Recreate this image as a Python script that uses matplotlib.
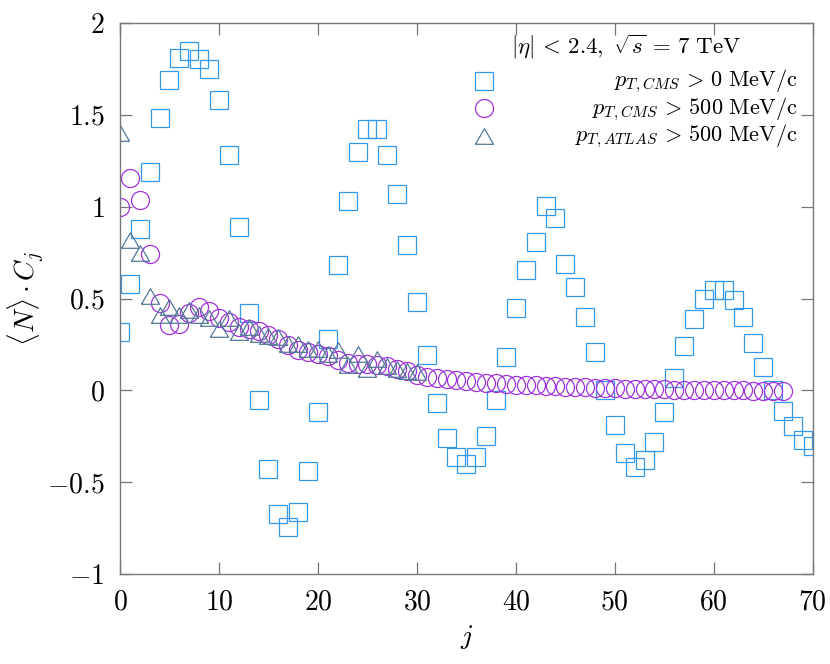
import matplotlib
matplotlib.use("Agg")
import matplotlib.pyplot as plt
from matplotlib.ticker import FuncFormatter, MultipleLocator

plt.rcParams["mathtext.fontset"] = "cm"
plt.rcParams["font.family"] = ["cmr10", "DejaVu Serif"]

# <N> * C_j, CMS, pT > 0 MeV/c (j = 0 .. 70)
cms0_vals = [
    0.32, 0.58, 0.88, 1.19, 1.48, 1.69, 1.81, 1.845, 1.805, 1.75,
    1.58, 1.28, 0.89, 0.42, -0.05, -0.43, -0.67, -0.745, -0.66, -0.44,
    -0.12, 0.28, 0.68, 1.03, 1.295, 1.42, 1.42, 1.28, 1.07, 0.79,
    0.48, 0.19, -0.067, -0.26, -0.36, -0.40, -0.36, -0.25, -0.05, 0.18,
    0.45, 0.655, 0.81, 1.005, 0.94, 0.686, 0.564, 0.40, 0.207, 0.005,
    -0.19, -0.34, -0.415, -0.377, -0.278, -0.118, 0.067, 0.24, 0.387, 0.495,
    0.545, 0.545, 0.49, 0.40, 0.256, 0.127, 0.005, -0.11, -0.196, -0.27,
    -0.30,
]
# CMS, pT > 500 MeV/c (j = 0 .. 67)
cms500_vals = [
    1.00, 1.153, 1.035, 0.742, 0.478, 0.357, 0.36, 0.42, 0.455, 0.43,
    0.395, 0.373, 0.347, 0.336, 0.322, 0.304, 0.279, 0.248, 0.22, 0.209,
    0.196, 0.185, 0.164, 0.149, 0.145, 0.142, 0.140, 0.131, 0.118, 0.105,
    0.082, 0.073, 0.068, 0.064, 0.058, 0.052, 0.046, 0.042, 0.039, 0.035,
    0.032, 0.029, 0.027, 0.024, 0.022, 0.020, 0.018, 0.016, 0.014, 0.013,
    0.011, 0.010, 0.009, 0.008, 0.007, 0.006, 0.005, 0.004, 0.003, 0.003,
    0.002, 0.001, 0.001, 0.000, -0.001, -0.002, -0.003, -0.004,
]
# ATLAS, pT > 500 MeV/c (j = 0 .. 30)
atlas500_vals = [
    1.40, 0.818, 0.746, 0.516, 0.409, 0.453, 0.411, 0.44, 0.409, 0.396,
    0.334, 0.396, 0.32, 0.344, 0.305, 0.298, 0.29, 0.255, 0.25, 0.225,
    0.225, 0.20, 0.218, 0.136, 0.20, 0.116, 0.171, 0.133, 0.116, 0.105,
    0.10,
]

cms0_j = list(range(len(cms0_vals)))
cms500_j = list(range(len(cms500_vals)))
atlas500_j = list(range(len(atlas500_vals)))

labels = [
    r"$p_{T,CMS} \,>\, 0\ \mathrm{MeV/c}$",
    r"$p_{T,CMS} \,>\, 500\ \mathrm{MeV/c}$",
    r"$p_{T,ATLAS} \,>\, 500\ \mathrm{MeV/c}$",
]
legend_title = r"$|\eta| \,<\, 2.4,\ \sqrt{s} \,=\, 7\ \mathrm{TeV}$"
colors = ["#3399EE", "#A033DD", "#557A99"]

tri = [(-1, -0.866), (1, -0.866), (0, 0.866), (-1, -0.866)]
markers = ["s", "o", tri]

fig = plt.figure(figsize=(8.3, 6.64), dpi=100)
ax = fig.add_axes([0.1446, 0.1351, 0.8346, 0.8307])

ms = 13
series = [(cms0_j, cms0_vals), (cms500_j, cms500_vals), (atlas500_j, atlas500_vals)]
for (xs, ys), mk, c, lab in zip(series, markers, colors, labels):
    ax.plot(xs, ys, ls="none", marker=mk, ms=ms, mfc="none", mec=c, mew=0.9,
            label=lab)

ax.set_xlim(0, 70)
ax.set_ylim(-1, 2)
ax.xaxis.set_major_locator(MultipleLocator(10))
ax.yaxis.set_major_locator(MultipleLocator(0.5))
fmt = FuncFormatter(lambda v, pos: r"$%g$" % v)
ax.xaxis.set_major_formatter(fmt)
ax.yaxis.set_major_formatter(fmt)
ax.tick_params(direction="in", length=8.5, width=0.9, color="#777777",
               labelsize=20, pad=11, top=True, right=True)
for sp in ax.spines.values():
    sp.set_color("#777777")
    sp.set_linewidth(1.0)

ax.set_xlabel(r"$j$", fontsize=20, labelpad=5)
ax.set_ylabel(r"$\langle N\rangle \cdot C_j$", fontsize=20, labelpad=1)

# key: markers on the left, labels flush right
ax.text(0.7305, 0.9565, legend_title, transform=ax.transAxes, fontsize=16.5,
        ha="center", va="center")
key_y = [0.893, 0.8437, 0.7933]
for mk, c, lab, ky in zip(markers, colors, labels, key_y):
    ax.plot([0.5255], [ky + 0.002], transform=ax.transAxes, ls="none",
            marker=mk, ms=ms, mfc="none", mec=c, mew=0.9, clip_on=False)
    ax.text(0.9788, ky, lab, transform=ax.transAxes, fontsize=16,
            ha="right", va="center")

fig.savefig("out.png", dpi=100)
